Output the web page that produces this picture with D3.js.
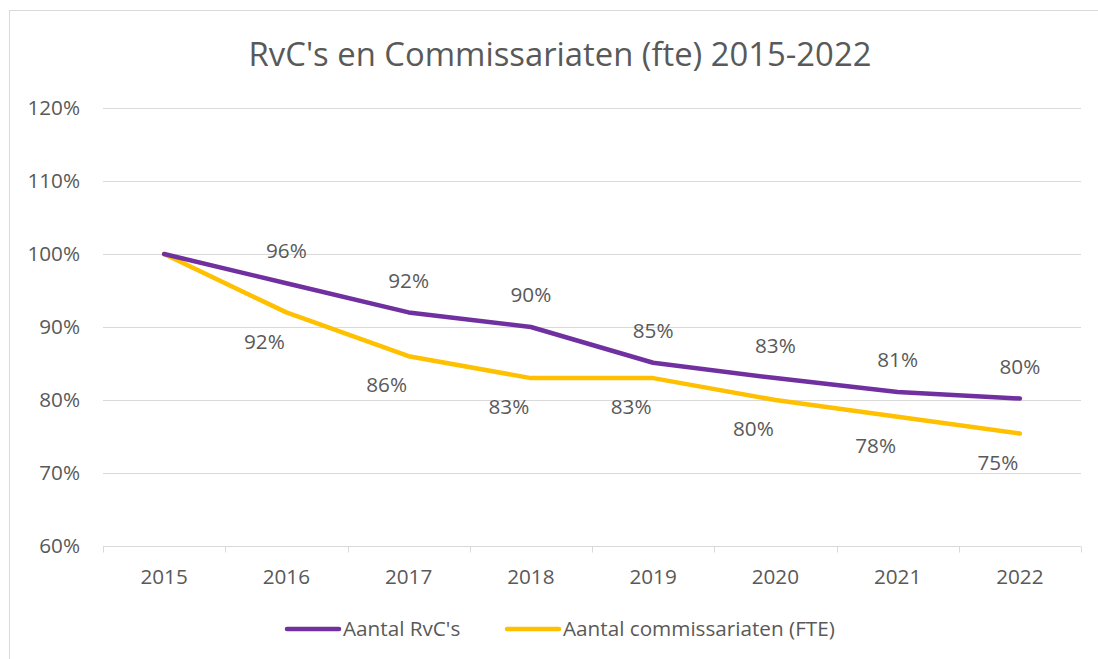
<!DOCTYPE html>
<html>
<head>
<meta charset="utf-8">
<script src="https://cdn.jsdelivr.net/npm/d3@7"></script>
<style>
  body { margin: 0; background: #fff; }
  text { font-family: "Open Sans", "Noto Sans", sans-serif; fill: #595959; }
</style>
</head>
<body>
<div id="chart"></div>
<script>
// data
var years = ["2015", "2016", "2017", "2018", "2019", "2020", "2021", "2022"];
var rvcs = [100, 96, 92, 90, 85.1, 83, 81.1, 80.2];
var commissariaten = [100, 92, 86, 83, 83, 80, 77.7, 75.4];
var yTicks = [60, 70, 80, 90, 100, 110, 120];
var seriesNames = ["Aantal RvC's", "Aantal commissariaten (FTE)"];

var width = 1098, height = 659;
var margin = {top: 108, right: 17, bottom: 113, left: 103};
var fs = "20.7px";

var svg = d3.select("#chart").append("svg")
    .attr("width", width)
    .attr("height", height);

// chart frame
svg.append("rect")
    .attr("x", 9.5).attr("y", 10.5)
    .attr("width", width + 10).attr("height", height + 10)
    .attr("fill", "none").attr("stroke", "#d9d9d9");

var x = d3.scaleBand()
    .domain(years)
    .range([margin.left, width - margin.right]);

var y = d3.scaleLinear()
    .domain([60, 120])
    .range([height - margin.bottom, margin.top]);

svg.append("text")
    .attr("x", 560).attr("y", 55)
    .attr("dy", "0.35em")
    .attr("text-anchor", "middle")
    .style("font-size", "32.8px")
    .text("RvC's en Commissariaten (fte) 2015-2022");

// gridlines + y labels
var yAxis = svg.append("g")
yAxis.selectAll("line")
    .data(yTicks.filter(d => d > 60))
    .enter().append("line")
    .attr("x1", margin.left).attr("x2", width - margin.right)
    .attr("y1", d => Math.round(y(d)) + 0.5).attr("y2", d => Math.round(y(d)) + 0.5)
    .attr("stroke", "#d9d9d9");

yAxis.selectAll("text")
    .data(yTicks)
    .enter().append("text")
    .attr("x", 80).attr("y", d => y(d))
    .attr("dy", "0.35em")
    .attr("text-anchor", "end")
    .style("font-size", fs)
    .text(d => d + "%");

// x axis with ticks between categories
var xAxis = svg.append("g")
    .attr("transform", "translate(0," + (Math.round(y(60)) + 0.5) + ")");
xAxis.append("line")
    .attr("x1", margin.left).attr("x2", width - margin.right)
    .attr("stroke", "#d9d9d9");
xAxis.selectAll(".tick")
    .data(years.concat(["end"]))
    .enter().append("line")
    .attr("x1", (d, i) => Math.round(margin.left + i * x.bandwidth()) + 0.5)
    .attr("x2", (d, i) => Math.round(margin.left + i * x.bandwidth()) + 0.5)
    .attr("y1", 0).attr("y2", 6)
    .attr("stroke", "#d9d9d9");
xAxis.selectAll("text")
    .data(years)
    .enter().append("text")
    .attr("x", d => x(d) + x.bandwidth() / 2)
    .attr("y", 30)
    .attr("dy", "0.35em")
    .attr("text-anchor", "middle")
    .style("font-size", fs)
    .text(d => d);

var line = d3.line()
    .x((d, i) => x(years[i]) + x.bandwidth() / 2)
    .y(d => y(d));

var series = [
    {name: seriesNames[0], values: rvcs, color: "#7030a0", dx: 0, dy: -32},
    {name: seriesNames[1], values: commissariaten, color: "#ffc000", dx: -22, dy: 29}
];

// yellow first so purple sits on top
series.slice().reverse().forEach(function(s) {
    svg.append("path")
        .datum(s.values)
        .attr("d", line)
        .attr("fill", "none")
        .attr("stroke", s.color)
        .attr("stroke-width", 4.5)
        .attr("stroke-linecap", "round")
        .attr("stroke-linejoin", "round");
});

series.forEach(function(s) {
    svg.append("g").selectAll("text")
        .data(s.values.slice(1))
        .enter().append("text")
        .attr("x", (d, i) => x(years[i + 1]) + x.bandwidth() / 2 + s.dx)
        .attr("y", d => y(d) + s.dy)
        .attr("dy", "0.35em")
        .attr("text-anchor", "middle")
        .style("font-size", fs)
        .text(d => Math.round(d) + "%");
});

// legend
var legend = svg.append("g").attr("transform", "translate(0,629)");
var lx = [287, 507];
series.forEach(function(s, i) {
    legend.append("line")
        .attr("x1", lx[i]).attr("x2", lx[i] + 52)
        .attr("stroke", s.color)
        .attr("stroke-width", 4.5)
        .attr("stroke-linecap", "round");
    legend.append("text")
        .attr("x", lx[i] + 56)
        .attr("dy", "0.35em")
        .style("font-size", fs)
        .text(s.name);
});
</script>
</body>
</html>
